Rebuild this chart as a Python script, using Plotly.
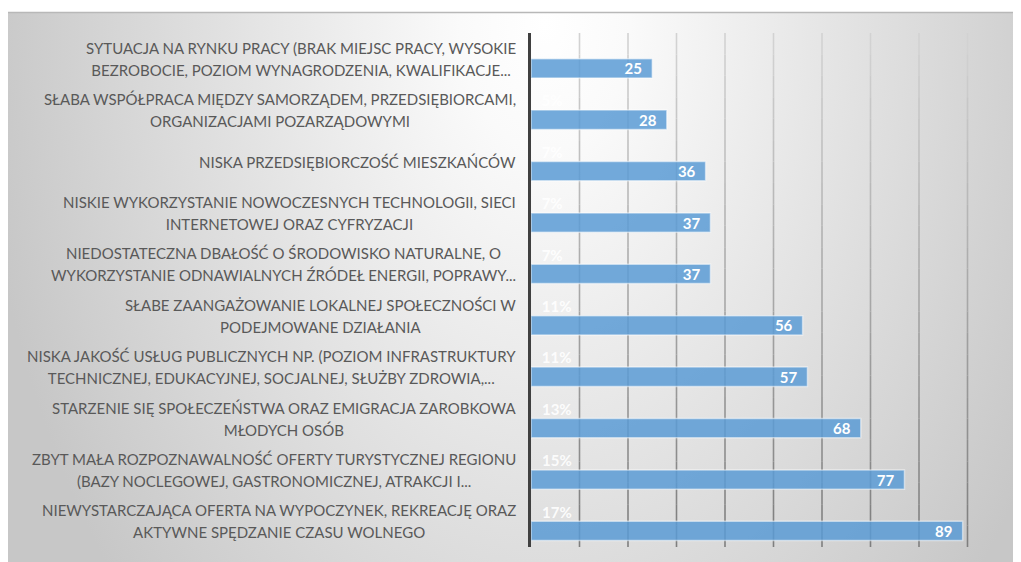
import base64
import plotly.graph_objects as go

W, H = 1021, 562
ML, MR, MT, MB = 523, 13, 25, 23

categories = [
    "SYTUACJA NA RYNKU PRACY (BRAK MIEJSC PRACY, WYSOKIE\nBEZROBOCIE, POZIOM WYNAGRODZENIA, KWALIFIKACJE...",
    "SŁABA WSPÓŁPRACA MIĘDZY SAMORZĄDEM, PRZEDSIĘBIORCAMI,\nORGANIZACJAMI POZARZĄDOWYMI",
    "NISKA PRZEDSIĘBIORCZOŚĆ MIESZKAŃCÓW",
    "NISKIE WYKORZYSTANIE NOWOCZESNYCH TECHNOLOGII, SIECI\nINTERNETOWEJ ORAZ CYFRYZACJI",
    "NIEDOSTATECZNA DBAŁOŚĆ O ŚRODOWISKO NATURALNE, O\nWYKORZYSTANIE ODNAWIALNYCH ŹRÓDEŁ ENERGII, POPRAWY...",
    "SŁABE ZAANGAŻOWANIE LOKALNEJ SPOŁECZNOŚCI W\nPODEJMOWANE DZIAŁANIA",
    "NISKA JAKOŚĆ USŁUG PUBLICZNYCH NP. (POZIOM INFRASTRUKTURY\nTECHNICZNEJ, EDUKACYJNEJ, SOCJALNEJ, SŁUŻBY ZDROWIA,...",
    "STARZENIE SIĘ SPOŁECZEŃSTWA ORAZ EMIGRACJA ZAROBKOWA\nMŁODYCH OSÓB",
    "ZBYT MAŁA ROZPOZNAWALNOŚĆ OFERTY TURYSTYCZNEJ REGIONU\n(BAZY NOCLEGOWEJ, GASTRONOMICZNEJ, ATRAKCJI I...",
    "NIEWYSTARCZAJĄCA OFERTA NA WYPOCZYNEK, REKREACJĘ ORAZ\nAKTYWNE SPĘDZANIE CZASU WOLNEGO",
]
counts = [25, 28, 36, 37, 37, 56, 57, 68, 77, 89]
shares = [0.05, 0.05, 0.07, 0.07, 0.07, 0.11, 0.11, 0.13, 0.15, 0.17]
share_labels = ["5%", "5%", "7%", "7%", "7%", "11%", "11%", "13%", "15%", "17%"]
x_range = [0, 100]
grid_ticks = [10, 20, 30, 40, 50, 60, 70, 80, 90, 100]

labels_html = [c.replace("\n", "<br>") for c in categories]

FONT = "Lato, 'Open Sans', sans-serif"

# visible panel (figure coordinates; page has an 8px body margin)
PX, PY, PWID, PHGT = 0, 4, W - 8, H - 12

svg = f"""<svg xmlns='http://www.w3.org/2000/svg' width='{W}' height='{H}' viewBox='0 0 {W} {H}'>
<defs>
<radialGradient id='g' cx='0' cy='0' r='1' gradientUnits='objectBoundingBox'
 gradientTransform='translate(0.53,0.02) scale(0.56,1.55)'>
<stop offset='0' stop-color='#ffffff'/>
<stop offset='0.15' stop-color='#fafafa'/>
<stop offset='1' stop-color='#c7c7c7'/>
</radialGradient>
</defs>
<rect x='0' y='0' width='{W}' height='{H}' fill='#ffffff'/>
<rect x='{PX}' y='{PY}' width='{PWID}' height='{PHGT}' fill='url(#g)'/>
<line x1='{PX}' y1='{PY + 0.5}' x2='{W}' y2='{PY + 0.5}' stroke='#b8b8b8' stroke-width='1.5'/>
</svg>"""
src = "data:image/svg+xml;base64," + base64.b64encode(svg.encode("utf-8")).decode("ascii")

pw = W - ML - MR
ph = H - MT - MB

fig = go.Figure()

fig.add_trace(go.Bar(
    y=labels_html, x=shares, orientation="h",
    marker=dict(color="rgba(0,0,0,0)", line=dict(width=0)),
    text=["\u00a0\u00a0" + s for s in share_labels],
    textposition="outside", constraintext="none", cliponaxis=False,
    textfont=dict(family=FONT, size=15, color="rgba(255,255,255,0.9)", weight="bold"),
    hoverinfo="skip", showlegend=False,
))
fig.add_trace(go.Bar(
    y=labels_html, x=counts, orientation="h",
    marker=dict(color="rgba(91,155,213,0.85)", line=dict(color="rgba(255,255,255,0.5)", width=1.5)),
    text=[f"{v}\u00a0\u00a0" for v in counts],
    textposition="inside", insidetextanchor="end", constraintext="none",
    textfont=dict(family=FONT, size=15, color="#ffffff", weight="bold"),
    showlegend=False,
))

# category labels (centered multi-line, wider line spacing)
for lab in labels_html:
    fig.add_annotation(
        x=0, xref="paper", y=lab, yref="y", xanchor="right", yanchor="middle",
        xshift=-13, text=f"<span style='font-size:15px'>{lab}</span>",
        align="center", showarrow=False,
        font=dict(family=FONT, size=17, color="#595959"),
    )

# gridlines with a vertical light-to-dark gradient
N = 24
top_c, bot_c = (212, 212, 212), (125, 125, 125)
shapes = []
for v in grid_ticks:
    for i in range(N):
        t = (i + 0.5) / N
        c = tuple(round(top_c[k] + (bot_c[k] - top_c[k]) * t) for k in range(3))
        shapes.append(dict(type="line", xref="x", yref="paper", x0=v, x1=v,
                           y0=1 - i / N, y1=1 - (i + 1) / N, layer="below",
                           line=dict(color=f"rgb{c}", width=1.6)))

fig.update_layout(
    width=W, height=H,
    margin=dict(l=ML, r=MR, t=MT, b=MB, pad=0),
    paper_bgcolor="#ffffff", plot_bgcolor="rgba(0,0,0,0)",
    barmode="group", bargap=0.25, bargroupgap=0,
    shapes=shapes,
    images=[dict(source=src, xref="paper", yref="paper",
                 x=-ML / pw, y=1 + MT / ph, sizex=W / pw, sizey=H / ph,
                 xanchor="left", yanchor="top", sizing="stretch", layer="below")],
    xaxis=dict(range=x_range, showticklabels=False, showgrid=False,
               zeroline=False, showline=False, fixedrange=True),
    yaxis=dict(autorange="reversed", showticklabels=False, showgrid=False,
               showline=True, linecolor="#404040", linewidth=2.5, ticks="",
               zeroline=False, fixedrange=True),
)

fig.write_html("out.html")
